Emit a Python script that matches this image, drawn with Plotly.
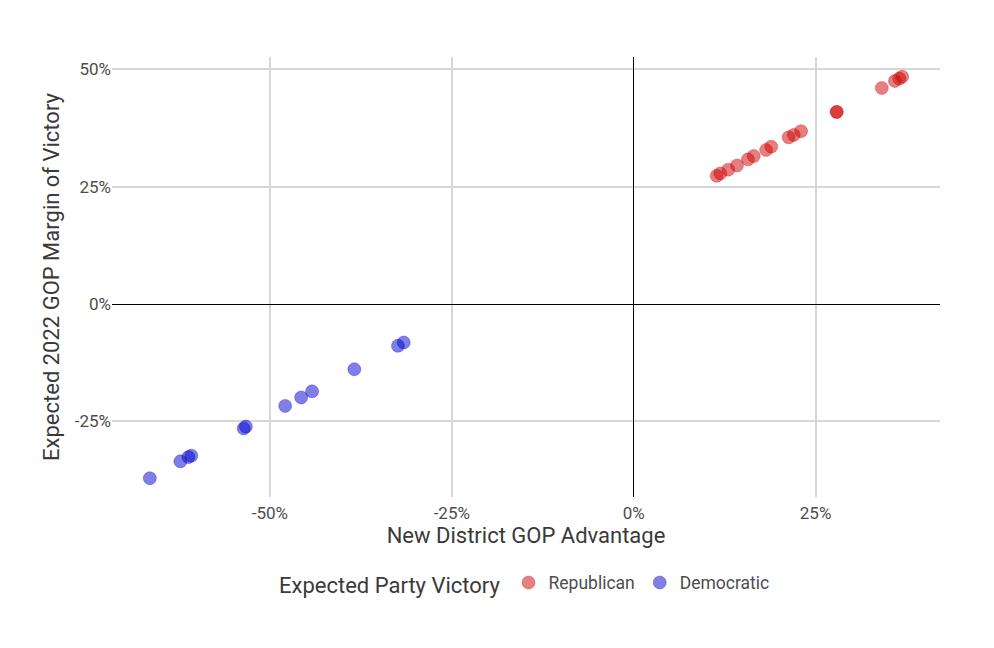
import plotly.graph_objects as go

# Республиканские округа: преимущество GOP и ожидаемая маржа (в %)
rep_advantage = [11.4, 11.9, 13.0, 14.2, 15.7, 16.5, 18.2, 18.9, 21.3, 22.0, 23.0,
                 27.9, 27.9, 34.1, 35.9, 36.5, 36.9]
rep_margin = [27.3, 27.8, 28.6, 29.5, 30.8, 31.5, 32.8, 33.5, 35.5, 36.0, 36.8,
              40.9, 40.9, 46.0, 47.5, 48.0, 48.4]

# Демократические округа
dem_advantage = [-66.5, -62.3, -61.2, -60.8, -53.6, -53.3, -47.9, -45.7, -44.2,
                 -38.4, -32.4, -31.6]
dem_margin = [-37.1, -33.5, -32.6, -32.3, -26.5, -26.1, -21.7, -19.9, -18.6,
              -13.9, -8.9, -8.2]

x_ticks = [-50, -25, 0, 25]
x_labels = ['-50%', '-25%', '0%', '25%']
y_ticks = [-25, 0, 25, 50]
y_labels = ['-25%', '0%', '25%', '50%']

FONT = 'Roboto'

fig = go.Figure()
fig.add_trace(go.Scatter(
    x=rep_advantage, y=rep_margin, mode='markers', name='Republican',
    marker=dict(size=13, color='rgba(205,0,0,0.5)',
                line=dict(width=1, color='rgba(205,0,0,0.3)'))))
fig.add_trace(go.Scatter(
    x=dem_advantage, y=dem_margin, mode='markers', name='Democratic',
    marker=dict(size=13, color='rgba(0,0,205,0.5)',
                line=dict(width=1, color='rgba(0,0,205,0.3)'))))

# поля подобраны с учётом отступа body (8px) в браузере
fig.update_layout(
    width=994, height=648,
    margin=dict(l=104, r=62, t=49, b=159),
    paper_bgcolor='white', plot_bgcolor='white',
    font=dict(family=FONT, color='#3a3a3a'),
    showlegend=True,
    legend=dict(orientation='h', x=0.5, xanchor='center', y=-0.198, yanchor='middle',
                title=dict(text='Expected Party Victory', font=dict(size=22, color='#3a3a3a')),
                font=dict(size=17.5, color='#4d4d4d'), itemwidth=30),
    xaxis=dict(title=dict(text='New District GOP Advantage', font=dict(size=22),
                          standoff=3),
               range=[-71.7, 42.1], tickvals=x_ticks, ticktext=x_labels,
               tickfont=dict(size=17, color='#4d4d4d'), ticklabelstandoff=4,
               showgrid=True, gridcolor='#d6d6d6', gridwidth=1.5,
               zeroline=True, zerolinecolor='black', zerolinewidth=1.2,
               showline=False, ticks=''),
    yaxis=dict(title=dict(text='Expected 2022 GOP Margin of Victory', font=dict(size=22),
                          standoff=9),
               range=[-41.1, 52.6], tickvals=y_ticks, ticktext=y_labels,
               tickfont=dict(size=17, color='#4d4d4d'),
               showgrid=True, gridcolor='#d6d6d6', gridwidth=1.5,
               zeroline=True, zerolinecolor='black', zerolinewidth=1.2,
               showline=False, ticks=''),
)

fig.write_html('out.html')
